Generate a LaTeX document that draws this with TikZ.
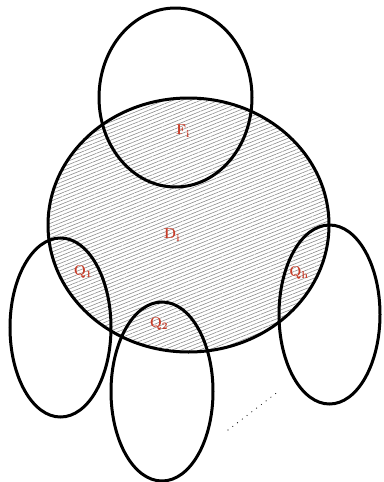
\documentclass[tikz,border=0pt]{standalone}
\usetikzlibrary{patterns.meta}
\definecolor{lblred}{RGB}{200,60,40}
\begin{document}
\begin{tikzpicture}[x=1pt,y=-1pt,
  setshape/.style={draw=black,line width=3pt},
  lbl/.style={text=lblred,font=\Large\bfseries}]
\useasboundingbox (0,0) rectangle (383,482);
% main set D
\path[pattern={Lines[angle=22,distance=3.4pt,line width=0.6pt]},pattern color=gray!90]
  (188.5,225) ellipse[x radius=140.5,y radius=127];
\draw[setshape] (188.5,225) ellipse[x radius=140.5,y radius=127];
% F
\draw[setshape] (175.5,97.5) ellipse[x radius=76.5,y radius=89.5];
% Q1, Q2, Qh
\draw[setshape] (60.5,327.5) ellipse[x radius=50.5,y radius=89.5];
\draw[setshape] (162,391.5) ellipse[x radius=51,y radius=89.5];
\draw[setshape] (329.5,314.5) ellipse[x radius=50.5,y radius=89.5];
% labels
\node[lbl] (lF) at (183,131) {$\mathbf{F_i}$};
\node[lbl] (lD) at (172,235) {$\mathbf{D_i}$};
\node[lbl] (lQ1) at (83,272) {$\mathbf{Q_1}$};
\node[lbl] (lQ2) at (159,324) {$\mathbf{Q_2}$};
\node[lbl] (lQh) at (299,273) {$\mathbf{Q_h}$};
% dots
\coordinate (d1) at (228,430);
\coordinate (d2) at (279,391);
\draw[line width=1.2pt,line cap=round,dash pattern=on 0pt off 6pt] (d1) -- (d2);
\end{tikzpicture}
\end{document}
